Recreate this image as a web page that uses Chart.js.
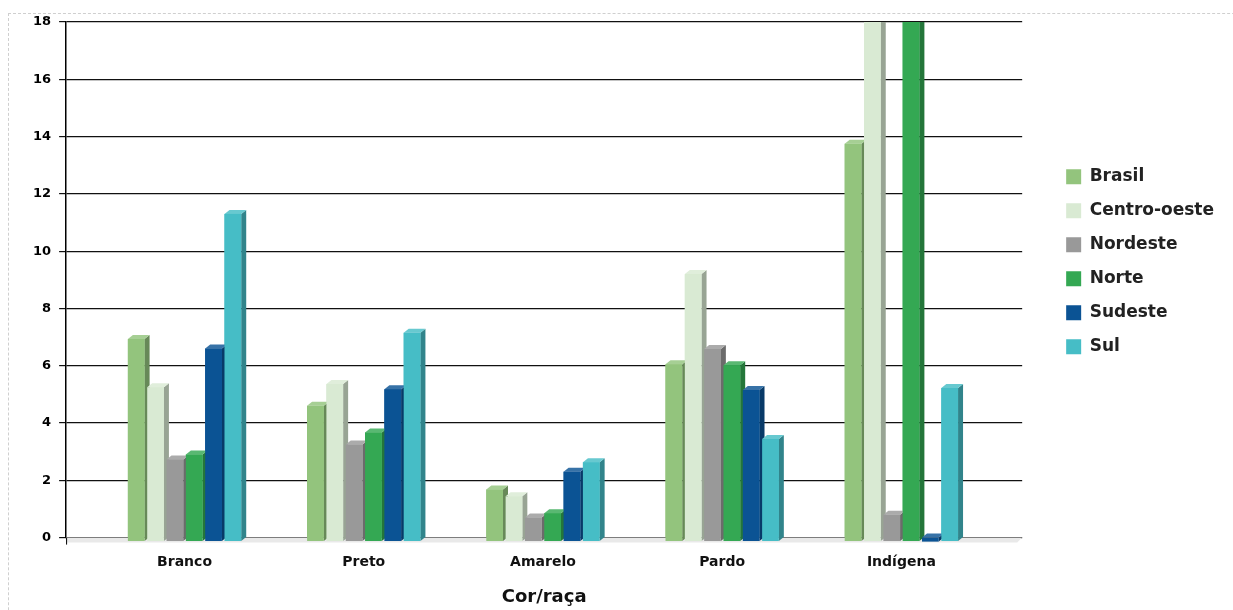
<!DOCTYPE html>
<html>
<head>
<meta charset="utf-8">
<script src="https://cdn.jsdelivr.net/npm/chart.js@4.4.1/dist/chart.umd.min.js"></script>
<style>
    html, body { margin: 0; padding: 0; background: #fff; overflow: hidden; }
    #frame { position: absolute; left: 8px; top: 13px; width: 1400px; height: 800px; border: 1px dashed #cfcfcf; }
    #wrap { position: absolute; left: 0; top: 0; width: 1233px; height: 610px; }
</style>
</head>
<body>
<div id="frame"></div>
<div id="wrap"><canvas id="racaChart"></canvas></div>
<script>
// Categories and series
const categories = ['Branco', 'Preto', 'Amarelo', 'Pardo', 'Indígena'];
const seriesNames = ['Brasil', 'Centro-oeste', 'Nordeste', 'Norte', 'Sudeste', 'Sul'];
const brasil      = [6.93, 4.60, 1.68, 6.05, 13.75];
const centroOeste = [5.25, 5.36, 1.44, 9.20, 22.0];
const nordeste    = [2.73, 3.25, 0.70, 6.58, 0.80];
const norte       = [2.90, 3.67, 0.85, 6.02, 20.0];
const sudeste     = [6.60, 5.18, 2.30, 5.15, 0.00];
const sul         = [11.30, 7.15, 2.63, 3.44, 5.22];
const yTicks = [0, 2, 4, 6, 8, 10, 12, 14, 16, 18];

const seriesValues = [brasil, centroOeste, nordeste, norte, sudeste, sul];
const seriesColors = ['#93c47d', '#d9ead3', '#999999', '#34a853', '#0b5394', '#46bdc6'];

const FONT = 'DejaVu Sans';
const DX = 5, DY = 4;

function shade(hex, f) {
    // f < 0 darkens, f > 0 lightens
    const n = parseInt(hex.slice(1), 16);
    let r = (n >> 16) & 255, g = (n >> 8) & 255, b = n & 255;
    const t = f < 0 ? 0 : 255, p = Math.abs(f);
    r = Math.round(r + (t - r) * p);
    g = Math.round(g + (t - g) * p);
    b = Math.round(b + (t - b) * p);
    return `rgb(${r},${g},${b})`;
}

// draws the floor under the bars and the 3D faces of every bar
const bars3d = {
    id: 'bars3d',
    beforeDatasetsDraw(chart) {
        const { ctx, chartArea: a } = chart;
        ctx.save();
        ctx.fillStyle = '#e9e9e9';
        ctx.beginPath();
        ctx.moveTo(a.left, a.bottom);
        ctx.lineTo(a.right, a.bottom);
        ctx.lineTo(a.right - DX, a.bottom + DY + 1);
        ctx.lineTo(a.left, a.bottom + DY + 1);
        ctx.closePath();
        ctx.fill();
        ctx.strokeStyle = '#000';
        ctx.lineWidth = 1;
        ctx.beginPath();
        ctx.moveTo(a.left + 0.5, a.bottom);
        ctx.lineTo(a.left + 0.5, a.bottom + DY + 3);
        ctx.stroke();
        ctx.restore();
    },
    afterDatasetsDraw(chart) {
        const { ctx, chartArea: a } = chart;
        ctx.save();
        ctx.beginPath();
        ctx.rect(a.left, a.top, a.right - a.left + 20, a.bottom - a.top + 20);
        ctx.clip();
        categories.forEach((c, j) => {
            seriesValues.forEach((vals, i) => {
                const bar = chart.getDatasetMeta(i).data[j];
                if (!bar) return;
                const { x, y, base, width } = bar.getProps(['x', 'y', 'base', 'width'], true);
                const l = x - width / 2, r = x + width / 2;
                const bottom = base + DY;
                const col = seriesColors[i];
                // side
                ctx.fillStyle = shade(col, -0.3);
                ctx.beginPath();
                ctx.moveTo(r, y);
                ctx.lineTo(r + DX, y - DY);
                ctx.lineTo(r + DX, bottom - DY);
                ctx.lineTo(r, bottom);
                ctx.closePath();
                ctx.fill();
                // top
                ctx.fillStyle = shade(col, 0.18);
                ctx.beginPath();
                ctx.moveTo(l, y);
                ctx.lineTo(l + DX, y - DY);
                ctx.lineTo(r + DX, y - DY);
                ctx.lineTo(r, y);
                ctx.closePath();
                ctx.fill();
                // front
                ctx.fillStyle = col;
                ctx.fillRect(l, y, width, bottom - y);
            });
        });
        ctx.restore();
    },
    afterLayout(chart) {
        // move the legend block to where the reference has it
        const lg = chart.legend;
        lg.left += 27; lg.right += 27;
        lg.top -= 18; lg.bottom -= 18;
    }
};

const datasets = seriesNames.map((name, i) => ({
    label: name,
    data: seriesValues[i].map((v, j) => ({ x: j, y: v })),
    backgroundColor: seriesColors[i],
    borderWidth: 0,
    categoryPercentage: 0.647,
    barPercentage: 0.865
}));

new Chart(document.getElementById('racaChart'), {
    type: 'bar',
    data: { datasets },
    options: {
        responsive: true,
        maintainAspectRatio: false,
        animation: false,
        layout: { padding: { left: 25, right: 36, top: 22, bottom: 2 } },
        plugins: {
            legend: {
                position: 'right',
                fullSize: false,
                align: 'center',
                labels: {
                    boxWidth: 15,
                    boxHeight: 15,
                    padding: 17,
                    color: '#222',
                    font: { family: FONT, size: 17, weight: 'bold' }
                }
            },
            tooltip: { enabled: false }
        },
        scales: {
            x: {
                type: 'linear',
                offset: false,
                min: -0.661,
                max: 4.674,
                bounds: 'data',
                afterBuildTicks: (s) => { s.ticks = categories.map((c, i) => ({ value: i })); },
                grid: { display: false, drawTicks: false, offset: false },
                border: { display: false },
                ticks: {
                    padding: 16,
                    color: '#111',
                    font: { family: FONT, size: 14, weight: 'bold' },
                    callback: (v) => categories[v] ?? ''
                },
                title: {
                    display: true,
                    text: 'Cor/raça',
                    color: '#111',
                    padding: { top: 0, bottom: 0 },
                    font: { family: FONT, size: 18, weight: 'bold' }
                }
            },
            y: {
                min: 0,
                max: 18,
                afterBuildTicks: (s) => { s.ticks = yTicks.map(v => ({ value: v })); },
                grid: { color: '#111', lineWidth: 1.2, tickLength: 7 },
                border: { display: true, color: '#000', width: 1.5 },
                ticks: {
                    padding: 8,
                    color: '#000',
                    font: { family: FONT, size: 13, weight: 'bold' }
                }
            }
        }
    },
    plugins: [bars3d]
});
</script>
</body>
</html>
